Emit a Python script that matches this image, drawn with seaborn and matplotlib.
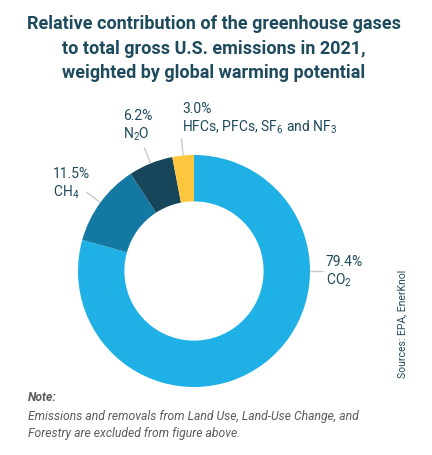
import numpy as np
import matplotlib
matplotlib.use("Agg")
import matplotlib.pyplot as plt
import seaborn as sns

# ------------- DATA -------------
gases = ["CO2", "CH4", "N2O", "HFCs, PFCs, SF6 and NF3"]
shares = [79.4, 11.5, 6.2, 3.0]
labels = [r"CO$_2$", r"CH$_4$", r"N$_2$O", r"HFCs, PFCs, SF$_6$ and NF$_3$"]
colors = ["#1fb0e5", "#1479a2", "#17465b", "#fec63f"]

TITLE = ("Relative contribution of the greenhouse gases\n"
         "to total gross U.S. emissions in 2021,\n"
         "weighted by global warming potential")
SOURCE = "Sources: EPA, EnerKnol"
NOTE_HEAD = "Note:"
NOTE_BODY = ("Emissions and removals from Land Use, Land-Use Change, and\n"
             "Forestry are excluded from figure above.")

# ------------- STYLE -------------
sns.set_theme(style="white")
plt.rcParams["font.family"] = ["Roboto", "DejaVu Sans"]
plt.rcParams["mathtext.fontset"] = "custom"
plt.rcParams["mathtext.rm"] = "Roboto"
plt.rcParams["mathtext.it"] = "Roboto"
DARK = "#1d4a5c"
GREY = "#5a5a5a"

W, H = 432, 455
CX, CY, R = 194, 271, 116   # donut centre / radius in pixels


def px(x, y):
    # pixel (from top-left) -> data coords where the donut has radius 1
    return (x - CX) / R, (CY - y) / R


fig = plt.figure(figsize=(W / 100, H / 100), dpi=100)
ax = fig.add_axes([0, 0, 1, 1])

wedges, _ = ax.pie(shares, colors=colors, startangle=90, counterclock=False,
                   radius=1, wedgeprops=dict(width=0.4, edgecolor="none"))
ax.set_xlim(-CX / R, (W - CX) / R)
ax.set_ylim(-(H - CY) / R, CY / R)
ax.set_aspect("equal")
ax.axis("off")

# leader lines from wedge edges
for i, w in enumerate(wedges):
    ang = np.deg2rad((w.theta1 + w.theta2) / 2)
    r2 = 1.15
    if i == 0:
        ang, r2 = 0.0, 1.11
    ax.plot([np.cos(ang), r2 * np.cos(ang)], [np.sin(ang), r2 * np.sin(ang)],
            color="#c8c8c8", lw=1, solid_capstyle="butt")

# labels (left edge, baseline of last line in pixels)
label_pos = [(326, 285), (53, 197), (123, 139), (182, 132)]
for lab, val, (lx, ly) in zip(labels, shares, label_pos):
    x, y = px(lx, ly)
    ax.text(x, y, f"{val:.1f}%\n{lab}", ha="left", va="baseline",
            fontsize=10, color=DARK, linespacing=1.25)

fig.text(214 / W, 1 - 78 / H, TITLE, ha="center", va="baseline",
         fontsize=13, fontweight="bold", color=DARK, linespacing=1.45)

fig.text(402 / W, 1 - 324 / H, SOURCE, rotation=90, ha="center", va="center",
         fontsize=7.5, color=DARK)

fig.text(28 / W, 1 - 400.7 / H, NOTE_HEAD, ha="left", va="baseline",
         fontsize=8.7, fontstyle="italic", fontweight="bold", color=GREY)
fig.text(28 / W, 1 - 437.3 / H, NOTE_BODY, ha="left", va="baseline",
         fontsize=8.7, fontstyle="italic", color=GREY, linespacing=1.45)

fig.savefig("out.png", dpi=100)
